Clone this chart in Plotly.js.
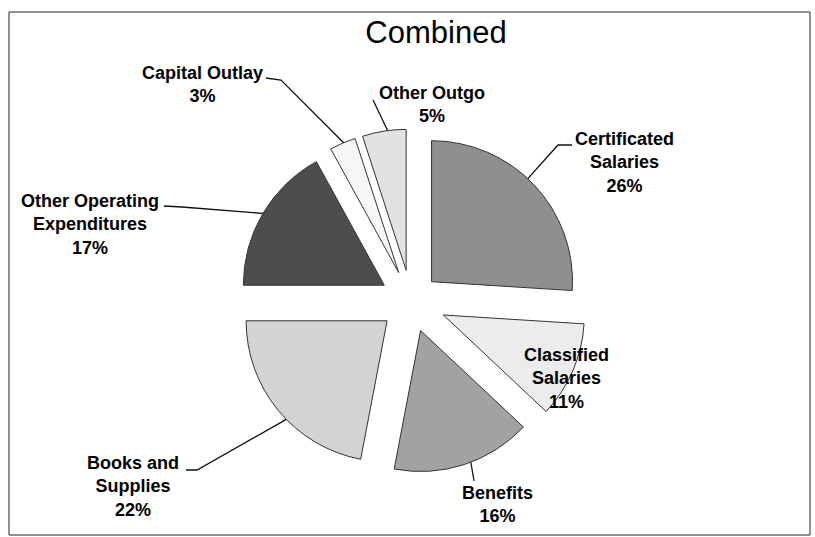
<!DOCTYPE html>
<html>
<head>
<meta charset="utf-8">
<script src="https://cdn.plot.ly/plotly-3.0.1.min.js"></script>
<style>
  html, body { margin: 0; padding: 0; background: #fff; }
  #plot { width: 815px; height: 537px; }
</style>
</head>
<body>
<div id="plot"></div>
<script>
// Slices, clockwise from 12 o'clock
const categories = ["Certificated Salaries", "Classified Salaries", "Benefits", "Books and Supplies",
                    "Other Operating Expenditures", "Capital Outlay", "Other Outgo"];
const percents = [26, 11, 16, 22, 17, 3, 5];
// how each label is broken over lines
const labelLines = [["Certificated", "Salaries"], ["Classified", "Salaries"], ["Benefits"], ["Books and", "Supplies"],
                    ["Other Operating", "Expenditures"], ["Capital Outlay"], ["Other Outgo"]];

const sliceColors = ["#8f8f8f", "#ececec", "#a2a2a2", "#d3d3d3", "#4d4d4d", "#f7f7f7", "#e2e2e2"];
const slicePull = [0.2, 0.25, 0.22, 0.22, 0.22, 0.22, 0.22];

const W = 815, H = 537;
const cx = 411, cy = 301, R = 141;          // pie centre and radius in pixels
const half = R * (1 + Math.max(...slicePull));

// label block centres (px), leader line points before the slice edge, spot on the arc (0..1 of the slice)
const labelXY = [[624, 163], [566, 378], [497, 504], [133, 486], [90, 225], [202, 84], [432, 104]];
const leaderPts = [[[572, 145], [558, 145]], null, [[474, 481]], [[186, 470], [197, 470]],
                   [[164, 206], [182, 207]], [[266, 78], [281, 80]], [[373, 100]]];
const leaderSpot = [0.46, null, 0.45, 0.44, 0.5, 0.54, 0.58];

const px = x => x / W;
const py = y => 1 - y / H;
const rad = d => d * Math.PI / 180;

const total = percents.reduce((a, b) => a + b, 0);
let acc = 0;
const startDeg = percents.map(v => { const s = acc; acc += v / total * 360; return s; });
const spanDeg = percents.map(v => v / total * 360);

const shapes = [{
  type: "rect", xref: "paper", yref: "paper",
  x0: px(9), x1: px(810), y0: py(535), y1: py(12),
  line: { color: "#222", width: 1 }
}];

percents.forEach((v, i) => {
  if (!leaderPts[i]) return;
  const mid = rad(startDeg[i] + spanDeg[i] / 2);
  const a = rad(startDeg[i] + spanDeg[i] * leaderSpot[i]);
  const tx = cx + slicePull[i] * R * Math.sin(mid) + R * Math.sin(a);
  const ty = cy - slicePull[i] * R * Math.cos(mid) - R * Math.cos(a);
  const pts = leaderPts[i].concat([[tx, ty]]);
  const path = pts.map((p, k) => (k ? "L" : "M") + px(p[0]).toFixed(5) + "," + py(p[1]).toFixed(5)).join(" ");
  shapes.push({ type: "path", xref: "paper", yref: "paper", path: path, line: { color: "#111", width: 1.3 } });
});

const annotations = percents.map((v, i) => ({
  xref: "paper", yref: "paper",
  x: px(labelXY[i][0]), y: py(labelXY[i][1]),
  xanchor: "center", yanchor: "middle", align: "center",
  showarrow: false,
  text: labelLines[i].join("<br>") + "<br>" + Math.round(v / total * 100) + "%",
  font: { family: "Liberation Sans, Arial, sans-serif", size: 18, color: "#000", weight: "bold" }
}));

const pieTrace = {
  type: "pie",
  values: percents,
  labels: categories,
  sort: false,
  direction: "clockwise",
  rotation: 0,
  pull: slicePull,
  textinfo: "none",
  hoverinfo: "label+percent",
  showlegend: false,
  marker: { colors: sliceColors, line: { color: "#333", width: 1 } },
  domain: { x: [px(cx - half), px(cx + half)], y: [py(cy + half), py(cy - half)] }
};

const layout = {
  width: W,
  height: H,
  margin: { l: 0, r: 0, t: 0, b: 0 },
  paper_bgcolor: "#fff",
  showlegend: false,
  title: {
    text: "Combined",
    x: px(436), xanchor: "center",
    y: py(32), yanchor: "middle", yref: "container",
    font: { family: "Liberation Sans, Arial, sans-serif", size: 31, color: "#000" }
  },
  shapes: shapes,
  annotations: annotations
};

Plotly.newPlot("plot", [pieTrace], layout, { displayModeBar: false });
</script>
</body>
</html>
